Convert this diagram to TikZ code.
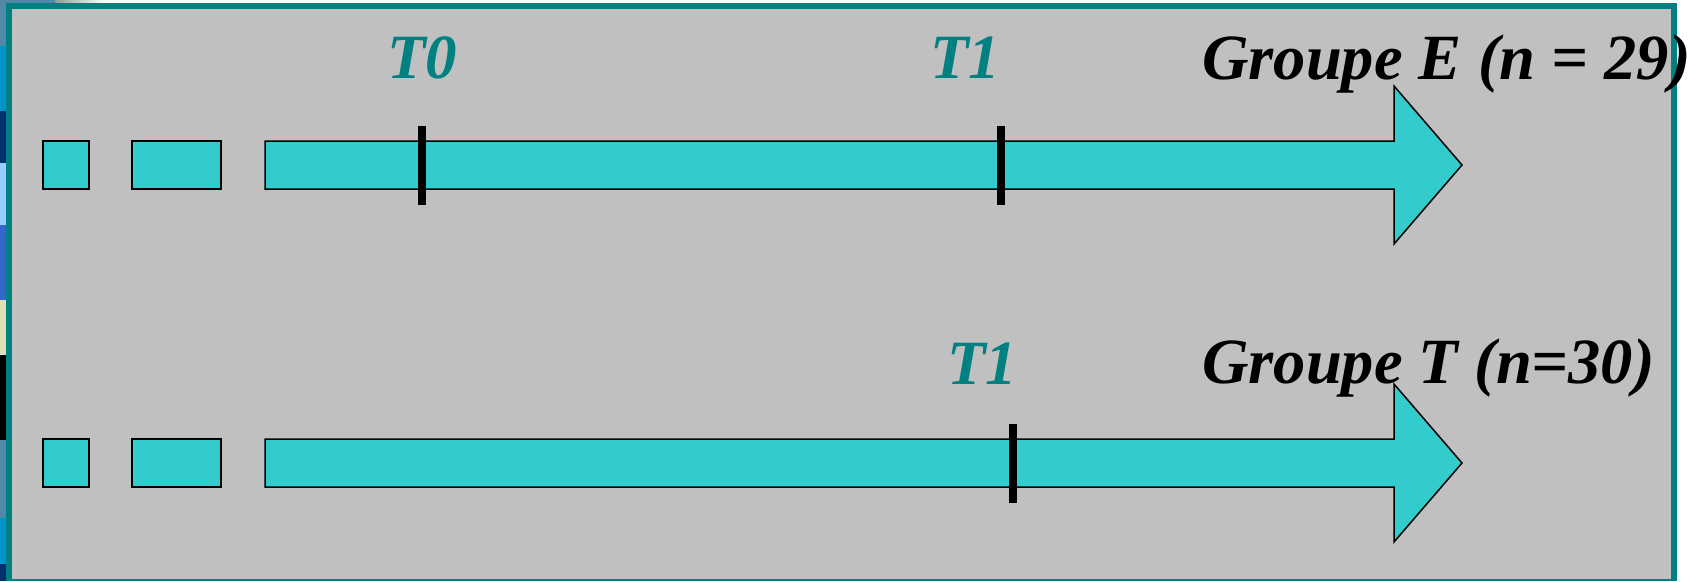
\documentclass[tikz,border=0pt]{standalone}
\usepackage{fontspec}
\setmainfont{Liberation Serif}
\definecolor{bgray}{HTML}{C0C0C0}
\definecolor{frameteal}{HTML}{008080}
\definecolor{cyanfill}{HTML}{33CCCC}
\definecolor{bandA}{HTML}{5289A8}
\definecolor{bandB}{HTML}{0095C8}
\definecolor{bandC}{HTML}{003070}
\definecolor{bandD}{HTML}{99CCFF}
\definecolor{bandE}{HTML}{3366CC}
\definecolor{bandF}{HTML}{E0E0B8}
\begin{document}
\begin{tikzpicture}[x=1pt,y=-1pt,
  blk/.style={draw=black,line width=1.5pt,fill=cyanfill,inner sep=0pt,outer sep=0pt},
  tickmark/.style={line width=8pt,black},
  lbl/.style={inner sep=0pt,anchor=base west,text=frameteal,font=\fontsize{63}{63}\selectfont\bfseries\itshape},
  grp/.style={inner sep=0pt,anchor=base west,text=black,font=\fontsize{64.5}{64.5}\selectfont\bfseries\itshape}]
\useasboundingbox (0,0) rectangle (1692,581);
\fill[white] (0,0) rectangle (1692,581);
% left colour bands
\fill[bandA] (0,0) rectangle (6,46);
\fill[bandB] (0,46) rectangle (6,111);
\fill[bandC] (0,111) rectangle (6,163);
\fill[bandD] (0,163) rectangle (6,225);
\fill[bandE] (0,225) rectangle (6,300);
\fill[bandF] (0,300) rectangle (6,355);
\fill[black] (0,355) rectangle (6,440);
\fill[bandA] (0,440) rectangle (6,518);
\fill[bandB] (0,518) rectangle (6,564);
\fill[bandC] (0,564) rectangle (6,581);
% top strip
\fill[bandA] (0,0) rectangle (55,3);
\shade[left color=gray!80,right color=white] (55,0) rectangle (105,3);
% frame
\fill[frameteal] (6,3) rectangle (1677,581);
\fill[bgray] (12,9) rectangle (1671,579);
% row 1
\node[blk,minimum width=46pt,minimum height=48pt] (a1) at (66,165) {};
\node[blk,minimum width=89pt,minimum height=48pt] (b1) at (176.5,165) {};
\draw[blk,line join=miter] (265,141) -- (1394,141) -- (1394,86) -- (1462,165) -- (1394,244) -- (1394,189) -- (265,189) -- cycle;
\coordinate (t0top) at (422,126);
\coordinate (t0bot) at (422,205);
\coordinate (t1top) at (1001,126);
\coordinate (t1bot) at (1001,205);
\draw[tickmark] (t0top) -- (t0bot);
\draw[tickmark] (t1top) -- (t1bot);
\node[lbl] (T0) at (387,78) {T0};
\node[lbl] (T1a) at (930,78) {T1};
\node[grp] (GE) at (1202,79) {Groupe E (n = 29)};
% row 2
\node[blk,minimum width=46pt,minimum height=48pt] (a2) at (66,463) {};
\node[blk,minimum width=89pt,minimum height=48pt] (b2) at (176.5,463) {};
\draw[blk,line join=miter] (265,439) -- (1394,439) -- (1394,384) -- (1462,463) -- (1394,542) -- (1394,487) -- (265,487) -- cycle;
\coordinate (u1top) at (1013,424);
\coordinate (u1bot) at (1013,503);
\draw[tickmark] (u1top) -- (u1bot);
\node[lbl] (T1b) at (947,384) {T1};
\node[grp] (GT) at (1202,383) {Groupe T (n=30)};
\end{tikzpicture}
\end{document}
